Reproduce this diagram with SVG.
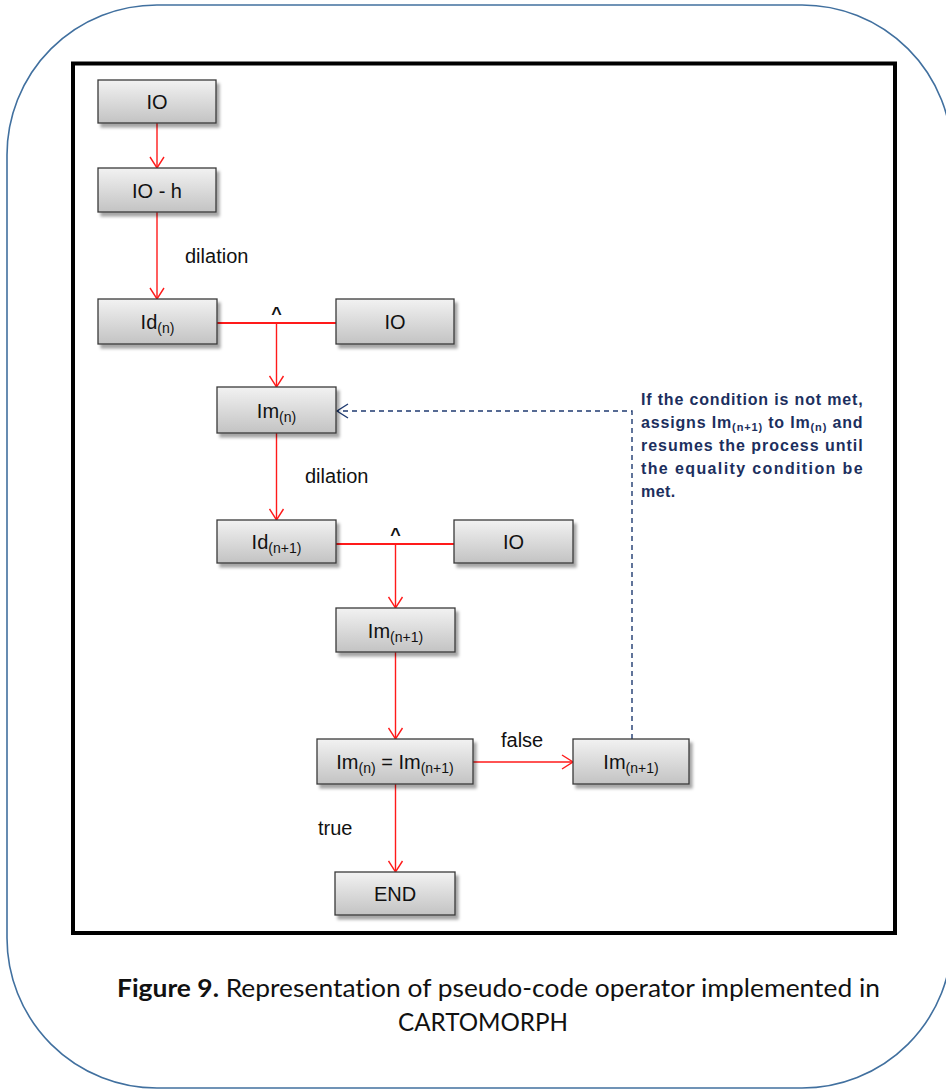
<svg xmlns="http://www.w3.org/2000/svg" width="946" height="1089" viewBox="0 0 946 1089">
  <style>
    .box { fill: url(#boxFill); stroke: #3a3a3a; stroke-width: 1.3; filter: url(#shadow); }
    .lbl { font-family: "Liberation Sans", Arial, sans-serif; font-size: 20px; fill: #111; text-anchor: middle; }
    .sub { font-size: 14px; }
    .edge { stroke: #ff1a1a; stroke-width: 1.4; fill: none; }
    .join { stroke: #ff1a1a; stroke-width: 2.2; fill: none; }
    .loop { stroke: #1f3a70; stroke-width: 1.4; fill: none; stroke-dasharray: 5 4; }
    .elbl { font-family: "Liberation Sans", Arial, sans-serif; font-size: 20px; fill: #111; }
    .caret { font-family: "Liberation Sans", Arial, sans-serif; font-size: 18px; font-weight: bold; fill: #111; text-anchor: middle; }
    .note { font-family: "Liberation Sans", Arial, sans-serif; font-size: 16px; font-weight: bold; fill: #1c2f5e; letter-spacing: 0.4px; }
    .note .s { font-size: 11px; }
    .cap { font-family: Lato, "Open Sans", sans-serif; font-size: 25px; fill: #111; font-variant-ligatures: none; }
  </style>
  <defs>
    <linearGradient id="boxFill" x1="0" y1="0" x2="0" y2="1">
      <stop offset="0" stop-color="#f2f2f2"/>
      <stop offset="1" stop-color="#c3c3c3"/>
    </linearGradient>
    <filter id="shadow" x="-10%" y="-20%" width="130%" height="160%">
      <feGaussianBlur in="SourceAlpha" stdDeviation="1.5"/>
      <feOffset dx="3" dy="4" result="b"/>
      <feFlood flood-color="#000" flood-opacity="0.35"/>
      <feComposite in2="b" operator="in"/>
      <feMerge><feMergeNode/><feMergeNode in="SourceGraphic"/></feMerge>
    </filter>
    <marker id="arrRed" markerUnits="userSpaceOnUse" markerWidth="14" markerHeight="16" viewBox="-12 -8 14 16" refX="0" refY="0" orient="auto">
      <path d="M-11,-7 L0,0 L-11,7" fill="none" stroke="#ff1a1a" stroke-width="1.4"/>
    </marker>
    <marker id="arrBlue" markerUnits="userSpaceOnUse" markerWidth="14" markerHeight="16" viewBox="-12 -8 14 16" refX="0" refY="0" orient="auto">
      <path d="M-11,-7 L0,0 L-11,7" fill="none" stroke="#1f3a70" stroke-width="1.4"/>
    </marker>
  </defs>

  <rect width="946" height="1089" fill="#fff"/>

  <!-- rounded page frame -->
  <rect x="7" y="5" width="945" height="1083" rx="150" ry="150" fill="none" stroke="#41709f" stroke-width="1.6"/>

  <!-- figure border -->
  <rect x="73" y="63.5" width="822" height="869.5" fill="none" stroke="#000" stroke-width="4"/>

  <!-- connectors -->
  <g id="connectors">
    <line class="edge" x1="157" y1="123" x2="157" y2="168" marker-end="url(#arrRed)"/>
    <line class="edge" x1="157" y1="212" x2="157" y2="299" marker-end="url(#arrRed)"/>
    <line class="join" x1="217" y1="323" x2="336" y2="323"/>
    <line class="edge" x1="276.5" y1="323" x2="276.5" y2="387" marker-end="url(#arrRed)"/>
    <line class="edge" x1="276.5" y1="433" x2="276.5" y2="520" marker-end="url(#arrRed)"/>
    <line class="join" x1="336" y1="544" x2="454" y2="544"/>
    <line class="edge" x1="395.5" y1="544" x2="395.5" y2="608" marker-end="url(#arrRed)"/>
    <line class="edge" x1="395.5" y1="652" x2="395.5" y2="739" marker-end="url(#arrRed)"/>
    <line class="edge" x1="473" y1="762" x2="573" y2="762" marker-end="url(#arrRed)"/>
    <line class="edge" x1="395.5" y1="784" x2="395.5" y2="872" marker-end="url(#arrRed)"/>
    <polyline class="loop" points="632,739 632,411 337,411" marker-end="url(#arrBlue)"/>

    <text class="elbl" x="185" y="263">dilation</text>
    <text class="elbl" x="305" y="483">dilation</text>
    <text class="elbl" x="501" y="747">false</text>
    <text class="elbl" x="318" y="835">true</text>
    <text class="caret" x="276.5" y="320">^</text>
    <text class="caret" x="395.5" y="541">^</text>
  </g>

  <!-- nodes -->
  <g id="n-io">
    <rect class="box" x="98" y="80" width="118" height="43"/>
    <text class="lbl" x="157" y="109">IO</text>
  </g>
  <g id="n-io-h">
    <rect class="box" x="98" y="168" width="118" height="44"/>
    <text class="lbl" x="157" y="197.5">IO - h</text>
  </g>
  <g id="n-id-n">
    <rect class="box" x="98" y="299" width="119" height="45"/>
    <text class="lbl" x="157.5" y="329">Id<tspan class="sub" dy="4">(n)</tspan></text>
  </g>
  <g id="n-io-2">
    <rect class="box" x="336" y="299" width="118" height="45"/>
    <text class="lbl" x="395" y="329">IO</text>
  </g>
  <g id="n-im-n">
    <rect class="box" x="217" y="387" width="119" height="46"/>
    <text class="lbl" x="276.5" y="417.5">Im<tspan class="sub" dy="4">(n)</tspan></text>
  </g>
  <g id="n-id-n1">
    <rect class="box" x="217" y="520" width="119" height="43"/>
    <text class="lbl" x="276.5" y="549">Id<tspan class="sub" dy="4">(n+1)</tspan></text>
  </g>
  <g id="n-io-3">
    <rect class="box" x="454" y="520" width="119" height="43"/>
    <text class="lbl" x="513.5" y="549">IO</text>
  </g>
  <g id="n-im-n1">
    <rect class="box" x="336" y="608" width="119" height="44"/>
    <text class="lbl" x="395.5" y="637.5">Im<tspan class="sub" dy="4">(n+1)</tspan></text>
  </g>
  <g id="n-test">
    <rect class="box" x="317" y="739" width="156" height="45"/>
    <text class="lbl" x="395" y="769">Im<tspan class="sub" dy="4">(n)</tspan><tspan dy="-4"> = Im</tspan><tspan class="sub" dy="4">(n+1)</tspan></text>
  </g>
  <g id="n-im-n1-b">
    <rect class="box" x="573" y="739" width="116" height="45"/>
    <text class="lbl" x="631" y="769">Im<tspan class="sub" dy="4">(n+1)</tspan></text>
  </g>
  <g id="n-end">
    <rect class="box" x="335" y="872" width="120" height="43"/>
    <text class="lbl" x="395" y="901">END</text>
  </g>

  <!-- loop note -->
  <g id="note">
    <text class="note" x="641" y="405" textLength="222" lengthAdjust="spacing">If the condition is not met,</text>
    <text class="note" x="641" y="428" textLength="222" lengthAdjust="spacing">assigns Im<tspan class="s" dy="3">(n+1)</tspan><tspan dy="-3"> to Im</tspan><tspan class="s" dy="3">(n)</tspan><tspan dy="-3"> and</tspan></text>
    <text class="note" x="641" y="451" textLength="222" lengthAdjust="spacing">resumes the process until</text>
    <text class="note" x="641" y="474" textLength="222" lengthAdjust="spacing">the equality condition be</text>
    <text class="note" x="641" y="497">met.</text>
  </g>

  <!-- caption -->
  <g id="caption">
    <text class="cap" x="117" y="997" textLength="763" lengthAdjust="spacingAndGlyphs"><tspan font-weight="bold">Figure 9.</tspan> Representation of pseudo-code operator implemented in</text>
    <text class="cap" x="398" y="1031" textLength="170" lengthAdjust="spacingAndGlyphs">CARTOMORPH</text>
  </g>
</svg>
